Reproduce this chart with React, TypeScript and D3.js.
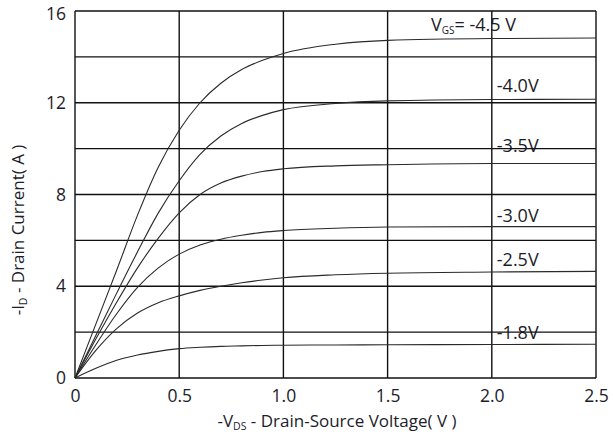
import { useEffect, useRef } from 'react'
import * as d3 from 'd3'

// -VDS sample points (V)
const vds = [0, 0.1, 0.2, 0.3, 0.4, 0.5, 0.6, 0.7, 0.8, 0.9, 1.0, 1.25, 1.5, 2.0, 2.5]

// -ID (A) for each gate voltage
const id45 = [0, 2.35, 4.7, 7.1, 9.2, 10.8, 12.0, 12.85, 13.45, 13.85, 14.15, 14.55, 14.72, 14.8, 14.82]
const id40 = [0, 1.85, 3.7, 5.5, 7.2, 8.6, 9.75, 10.55, 11.1, 11.45, 11.7, 11.97, 12.08, 12.14, 12.15]
const id35 = [0, 1.7, 3.3, 4.8, 6.1, 7.2, 8.0, 8.5, 8.8, 9.0, 9.12, 9.25, 9.3, 9.35, 9.35]
const id30 = [0, 1.45, 2.8, 3.95, 4.8, 5.4, 5.8, 6.05, 6.22, 6.35, 6.43, 6.53, 6.58, 6.6, 6.6]
const id25 = [0, 1.2, 2.15, 2.83, 3.28, 3.58, 3.82, 4.0, 4.15, 4.27, 4.37, 4.5, 4.57, 4.62, 4.65]
const id18 = [0, 0.42, 0.77, 1.0, 1.16, 1.28, 1.34, 1.38, 1.4, 1.42, 1.43, 1.44, 1.45, 1.46, 1.47]

const seriesList = [id45, id40, id35, id30, id25, id18]
const vgsLabels = ['-4.5 V', '-4.0V', '-3.5V', '-3.0V', '-2.5V', '-1.8V']

const xTicks = [0, 0.5, 1.0, 1.5, 2.0, 2.5]
const yTicks = [0, 4, 8, 12, 16]
const yGrid = [0, 2, 4, 6, 8, 10, 12, 14, 16]

const W = 613
const H = 434
const FONT = '"Open Sans", sans-serif'
const TXT = '#1c1c2a'

export default function App() {
  const ref = useRef<SVGSVGElement>(null)

  useEffect(() => {
    const svg = d3.select(ref.current)
    svg.selectAll('*').remove()

    const x = d3.scaleLinear().domain([0, 2.5]).range([75, 596])
    const y = d3.scaleLinear().domain([0, 16]).range([378, 11])

    // curve labels (grid is drawn over them, like the original)
    const gaps = [7, 7, 12, 5, 5, 5]
    const labels = svg.append('g')
      .attr('font-family', FONT)
      .attr('font-size', 18)
      .attr('fill', TXT)
    seriesList.forEach((s, i) => {
      const yy = y(s[s.length - 1]) - gaps[i]
      if (i === 0) {
        const t = labels.append('text').attr('x', 431).attr('y', yy)
        t.append('tspan').text('V')
        t.append('tspan').attr('font-size', 10).attr('dy', 3).text('GS')
        t.append('tspan').attr('dy', -3).text('= ' + vgsLabels[i])
      } else {
        labels.append('text')
          .attr('x', x(2.0) + 5)
          .attr('y', yy)
          .text(vgsLabels[i])
      }
    })

    // grid
    const grid = svg.append('g')
      .attr('stroke', '#111')
      .attr('stroke-width', 1.4)
    grid.selectAll('line.h')
      .data(yGrid)
      .join('line')
      .attr('class', 'h')
      .attr('x1', x(0))
      .attr('x2', x(2.5))
      .attr('y1', d => y(d))
      .attr('y2', d => y(d))
    grid.selectAll('line.v')
      .data(xTicks)
      .join('line')
      .attr('class', 'v')
      .attr('x1', d => x(d))
      .attr('x2', d => x(d))
      .attr('y1', y(0))
      .attr('y2', y(16))

    // curves
    const line = d3.line<number>()
      .x((_, i) => x(vds[i]))
      .y(d => y(d))
      .curve(d3.curveMonotoneX)
    svg.append('g')
      .selectAll('path')
      .data(seriesList)
      .join('path')
      .attr('d', d => line(d))
      .attr('fill', 'none')
      .attr('stroke', '#2a2a2a')
      .attr('stroke-width', 1.1)

    // tick labels
    const xAxis = d3.axisBottom(x)
      .tickValues(xTicks)
      .tickSize(0)
      .tickPadding(12)
      .tickFormat(d => (+d === 0 ? '0' : d3.format('.1f')(+d)))
    svg.append('g')
      .attr('transform', `translate(0, ${y(0)})`)
      .call(xAxis)
      .call(g => g.select('.domain').remove())
      .selectAll('text')
      .attr('font-family', FONT)
      .attr('font-size', 17.5)
      .attr('fill', TXT)

    const yAxis = d3.axisLeft(y)
      .tickValues(yTicks)
      .tickSize(0)
      .tickPadding(9)
      .tickFormat(d3.format('d'))
    svg.append('g')
      .attr('transform', `translate(${x(0)}, 0)`)
      .call(yAxis)
      .call(g => g.select('.domain').remove())
      .selectAll('text')
      .attr('font-family', FONT)
      .attr('font-size', 17.5)
      .attr('fill', TXT)
      .attr('y', d => (d === 16 ? 3 : 0))

    // axis titles
    const xt = svg.append('text')
      .attr('x', 337)
      .attr('y', 427)
      .attr('text-anchor', 'middle')
      .attr('font-family', FONT)
      .attr('font-size', 17)
      .attr('fill', TXT)
    xt.append('tspan').text('-V')
    xt.append('tspan').attr('font-size', 10.5).attr('dy', 3).text('DS')
    xt.append('tspan').attr('dy', -3).text(' - Drain-Source Voltage( V )')

    const yt = svg.append('text')
      .attr('transform', `translate(24, 230) rotate(-90)`)
      .attr('text-anchor', 'middle')
      .attr('font-family', FONT)
      .attr('font-size', 17)
      .attr('fill', TXT)
    yt.append('tspan').text('-I')
    yt.append('tspan').attr('font-size', 10.5).attr('dy', 3).text('D')
    yt.append('tspan').attr('dy', -3).text(' - Drain Current( A )')
  }, [])

  return (
    <svg
      ref={ref}
      width={W}
      height={H}
      style={{ position: 'absolute', left: 0, top: 0, background: '#fff' }}
    />
  )
}
